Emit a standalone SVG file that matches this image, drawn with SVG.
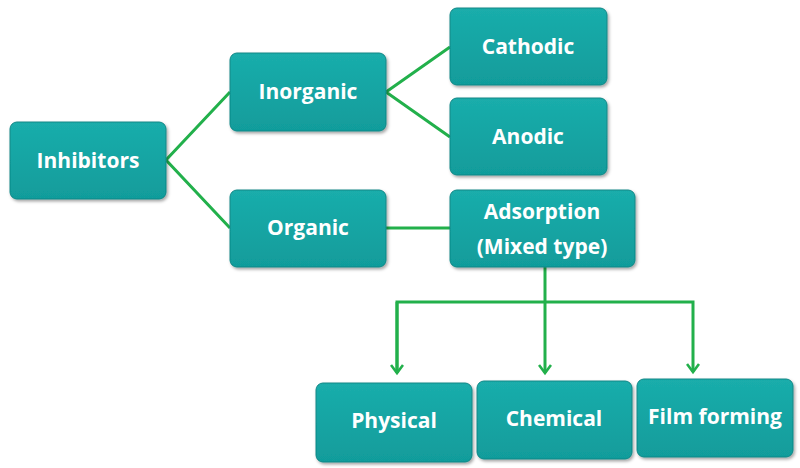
<svg xmlns="http://www.w3.org/2000/svg" width="800" height="468" viewBox="0 0 800 468">
<defs>
<linearGradient id="g" x1="0" y1="0" x2="0" y2="1">
<stop offset="0" stop-color="#1aadab"/>
<stop offset="1" stop-color="#119c9b"/>
</linearGradient>
<filter id="sh" x="-10%" y="-10%" width="125%" height="130%">
<feDropShadow dx="1.5" dy="2" stdDeviation="1.5" flood-color="#000" flood-opacity="0.35"/>
</filter>
<marker id="arr" markerWidth="14" markerHeight="14" refX="11" refY="7" orient="auto" markerUnits="userSpaceOnUse" viewBox="0 0 14 14">
<path d="M3,1 L11,7 L3,13" fill="none" stroke="#22b04b" stroke-width="2.6"/>
</marker>
</defs>
<style>
.box{fill:url(#g);stroke:#0f8786;stroke-width:1;filter:url(#sh)}
.t{font-family:"Open Sans","Liberation Sans",sans-serif;font-weight:bold;font-size:21px;fill:#ffffff;text-anchor:middle}
.c{stroke:#22b04b;stroke-width:3;fill:none}
</style>
<rect width="800" height="468" fill="#ffffff"/>
<g id="connectors">
<polyline class="c" points="230,92 166,160 230,228"/>
<polyline class="c" points="450,47 386,92 450,137"/>
<line class="c" x1="386" y1="228" x2="450" y2="228"/>
<line class="c" x1="545" y1="267" x2="545" y2="373" marker-end="url(#arr)"/>
<polyline class="c" points="397,373 397,302 693,302 693,372" marker-end="url(#arr)"/>
<line class="c" x1="397" y1="302" x2="397" y2="373" marker-end="url(#arr)"/>
</g>
<g id="inhibitors"><rect class="box" x="10" y="122" width="156" height="77" rx="7"/><text class="t" x="88" y="168">Inhibitors</text></g>
<g id="inorganic"><rect class="box" x="230" y="53" width="156" height="78" rx="7"/><text class="t" x="308" y="99">Inorganic</text></g>
<g id="organic"><rect class="box" x="230" y="190" width="156" height="77" rx="7"/><text class="t" x="308" y="235">Organic</text></g>
<g id="cathodic"><rect class="box" x="450" y="8" width="157" height="77" rx="7"/><text class="t" x="528" y="54">Cathodic</text></g>
<g id="anodic"><rect class="box" x="450" y="98" width="157" height="77" rx="7"/><text class="t" x="528" y="144">Anodic</text></g>
<g id="adsorption"><rect class="box" x="450" y="190" width="185" height="77" rx="7"/><text class="t" x="542" y="219">Adsorption</text><text class="t" x="542" y="254">(Mixed type)</text></g>
<g id="physical"><rect class="box" x="316" y="383" width="156" height="79" rx="7"/><text class="t" x="394" y="428">Physical</text></g>
<g id="chemical"><rect class="box" x="477" y="381" width="155" height="78" rx="7"/><text class="t" x="554" y="426">Chemical</text></g>
<g id="film"><rect class="box" x="637" y="379" width="156" height="78" rx="7"/><text class="t" x="715" y="424">Film forming</text></g>
</svg>
